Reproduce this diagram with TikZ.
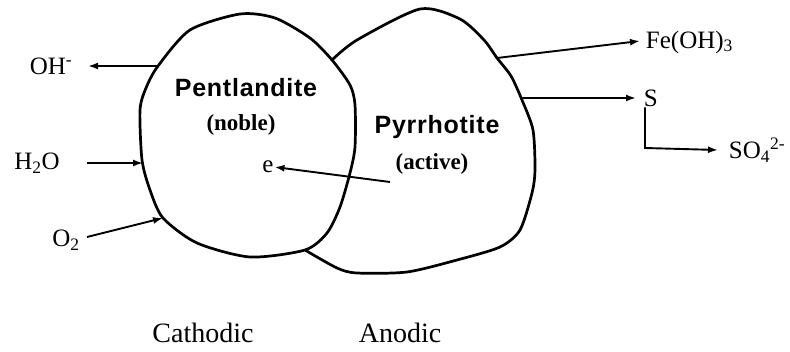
\documentclass[tikz,border=0pt]{standalone}
\usepackage{fontspec}
\setmainfont{Liberation Serif}
\setsansfont{Liberation Sans}
\newfontfamily\orefont[LetterSpace=3.0]{Liberation Sans}
\usetikzlibrary{arrows.meta}

\begin{document}
\begin{tikzpicture}[x=1pt,y=-1pt,line width=1.9pt,
    >={Latex[length=10pt,width=7pt]}]
  \tikzset{chem/.style={font=\fontsize{25}{28}\selectfont, inner sep=0pt},
    ore/.style={font=\orefont\bfseries\fontsize{25}{28}\selectfont, inner sep=0pt},
    kind/.style={font=\bfseries\fontsize{23}{26}\selectfont, inner sep=0pt},
    site/.style={font=\fontsize{28}{32}\selectfont, inner sep=0pt},
    blob/.style={line width=2.7pt, line join=round}}
  \useasboundingbox (0,0) rectangle (790,352);
  % pentlandite grain
  \draw[blob] plot[smooth cycle, tension=0.45] coordinates {(158,66) (190,30)
    (240,14) (275,18) (310,38) (332,60) (350,85) (355,105) (355,147) (350,173)
    (340,207) (327,233) (305,250) (250,257) (197,243) (163,218)
    (150,190) (142,160) (140,110) (146,88)};
  % pyrrhotite grain, shares the contact
  \draw[blob] plot[smooth, tension=0.45] coordinates {(332,60) (357,40)
    (420,9) (460,19) (484,40) (497,58) (511,76) (522,100) (533,130) (535,170)
    (532,193) (520,230) (500,247) (457,260) (407,272) (357,273) (337,268)
    (305,250)};
  \coordinate (pohm) at (158,66);
  \coordinate (ph2o) at (143,163);
  \coordinate (po2) at (163,218);
  \coordinate (pfe) at (497,58);
  \coordinate (ps) at (522,98);
  \coordinate (pe) at (390,182);
  \coordinate (bend) at (645,148);

  \node[ore] (pent) at (246,88) {Pentlandite};
  \node[kind] (noble) at (241,125) {(noble)};
  \node[ore] (pyrr) at (437,127) {Pyrrhotite};
  \node[kind] (active) at (432,164) {(active)};

  \node[chem] (ohm) at (51,66) {OH\textsuperscript{-}};
  \node[chem] (h2o) at (37,163) {H\textsubscript{2}O};
  \node[chem] (o2) at (66,240) {O\textsubscript{2}};
  \node[chem, anchor=west] (feoh) at (645,42) {Fe(OH)\textsubscript{3}};
  \node[chem, anchor=west] (s) at (643,98) {S};
  \node[chem, anchor=west] (so4) at (728,150) {SO\textsubscript{4}\textsuperscript{2-}};
  \node[chem] (e) at (268,167) {e};

  \node[site] (cath) at (203,333) {Cathodic};
  \node[site] (anod) at (400,333) {Anodic};

  \draw[->] (pohm) -- (ohm.east -| 88,0);
  \draw[->] (h2o.east -| 87,0) -- (ph2o);
  \draw[->] (87,237) -- (po2);
  \draw[->] (pfe) -- (640,41);
  \draw[->] (ps) -- (s.west -| 636,0);
  \draw[->] (s.south -| bend) -- (bend) -- (so4.west -| 718,0);
  \draw[->] (pe) -- (e.east);
\end{tikzpicture}
\end{document}
